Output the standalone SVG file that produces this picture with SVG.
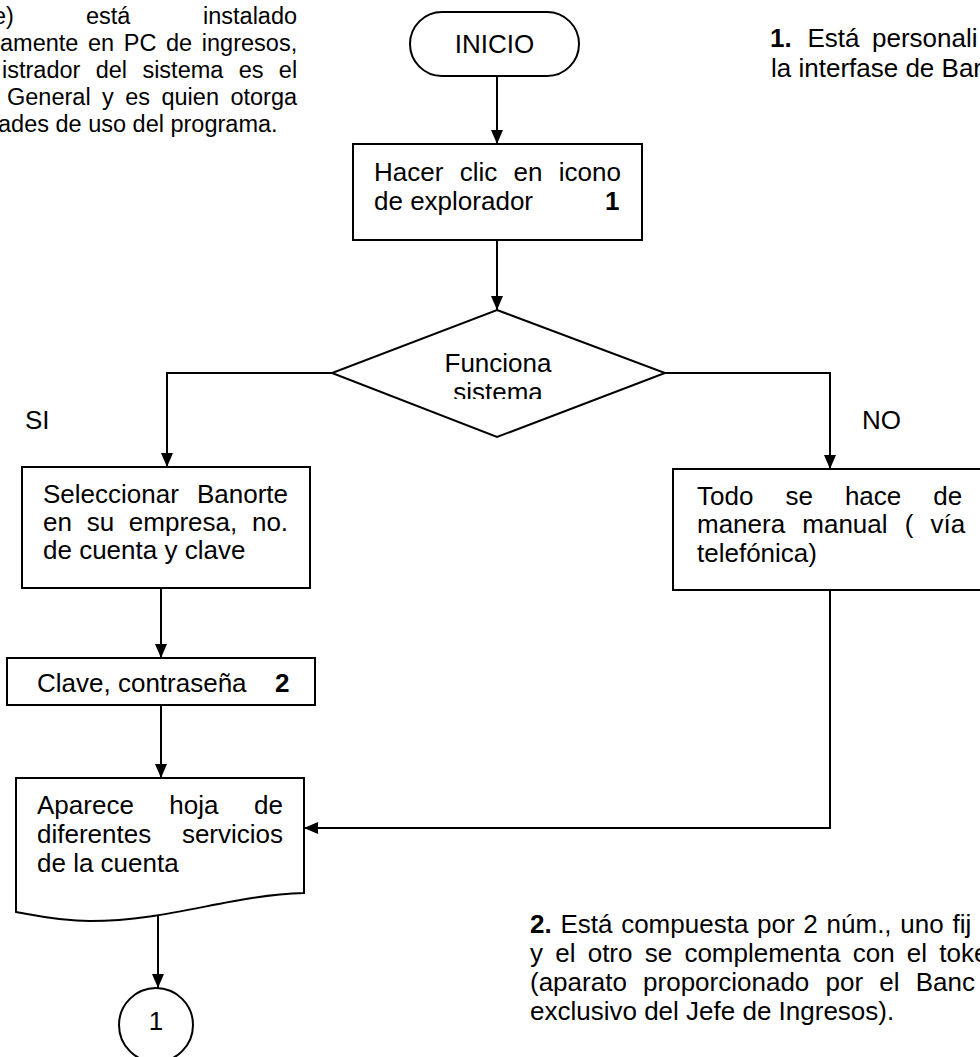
<svg xmlns="http://www.w3.org/2000/svg" width="980" height="1057" viewBox="0 0 980 1057">
<style>
text{font-family:"Liberation Sans",Arial,sans-serif;font-size:26px;fill:#000}
.note{font-size:23.5px}
.b{font-weight:bold}
.shape{fill:#fff;stroke:#000;stroke-width:2}
.conn{fill:none;stroke:#000;stroke-width:2}
</style>
<defs>
<marker id="arr" viewBox="0 0 14 12" refX="14" refY="6" markerWidth="14" markerHeight="12" orient="auto" markerUnits="userSpaceOnUse"><path d="M0,0 L14,6 L0,12 z" fill="#000"/></marker>
<clipPath id="dclip"><rect x="330" y="300" width="340" height="99"/></clipPath>
</defs>
<rect width="980" height="1057" fill="#fff"/>

<g id="note-top-left">
<text class="note" y="24"><tspan x="-7">e)</tspan><tspan x="86">está</tspan><tspan x="203">instalado</tspan></text>
<text class="note" x="0" y="51" word-spacing="3.1">amente en PC de ingresos,</text>
<text class="note" x="2" y="78" word-spacing="8.8">istrador del sistema es el</text>
<text class="note" x="7" y="105" word-spacing="4.9">General y es quien otorga</text>
<text class="note" x="-2" y="132">ades de uso del programa.</text>
</g>

<g id="note-1">
<text y="47"><tspan x="770" class="b">1.</tspan><tspan x="807.5">Está</tspan><tspan x="872">personali</tspan></text>
<text x="771" y="77">la interfase de Bar</text>
</g>

<g id="note-2">
<text x="530" y="933" word-spacing="1.5"><tspan class="b">2.</tspan> Está compuesta por 2 núm., uno fij</text>
<text x="530" y="962" word-spacing="5">y el otro se complementa con el toke</text>
<text x="530" y="991" word-spacing="9">(aparato proporcionado por el Banc</text>
<text x="530" y="1020">exclusivo del Jefe de Ingresos).</text>
</g>

<g id="connectors">
<path class="conn" d="M497,76 V144" marker-end="url(#arr)"/>
<path class="conn" d="M497,240 V310" marker-end="url(#arr)"/>
<path class="conn" d="M332,373 H167 V467" marker-end="url(#arr)"/>
<path class="conn" d="M665,373 H830 V469" marker-end="url(#arr)"/>
<path class="conn" d="M161,588 V658" marker-end="url(#arr)"/>
<path class="conn" d="M161,705 V778" marker-end="url(#arr)"/>
<path class="conn" d="M830,590 V828 H304" marker-end="url(#arr)"/>
<path class="conn" d="M158,916 V988" marker-end="url(#arr)"/>
</g>

<g id="inicio">
<rect class="shape" x="410" y="12" width="169" height="64" rx="32"/>
<text x="494.5" y="53" text-anchor="middle">INICIO</text>
</g>

<g id="hacer-clic">
<rect class="shape" x="353" y="144" width="289" height="96"/>
<text x="374" y="181" word-spacing="9.1">Hacer clic en icono</text>
<text y="210"><tspan x="374">de explorador</tspan><tspan x="605" class="b">1</tspan></text>
</g>

<g id="funciona-sistema">
<polygon class="shape" points="497,310 665,373 497,437 332,373"/>
<g clip-path="url(#dclip)">
<text x="498" y="372" text-anchor="middle">Funciona</text>
<text x="498" y="401" text-anchor="middle">sistema</text>
</g>
</g>

<g id="label-si"><text x="25" y="429">SI</text></g>
<g id="label-no"><text x="862" y="429">NO</text></g>

<g id="seleccionar">
<rect class="shape" x="22" y="467" width="288" height="121"/>
<text x="43" y="503" word-spacing="10.9">Seleccionar Banorte</text>
<text x="43" y="531" word-spacing="7.5">en su empresa, no.</text>
<text x="43" y="559">de cuenta y clave</text>
</g>

<g id="todo-manual">
<rect class="shape" x="673" y="469" width="320" height="121"/>
<text x="697" y="505" word-spacing="24.8">Todo se hace de</text>
<text x="697" y="533" word-spacing="9.9">manera manual ( vía</text>
<text x="697" y="562">telefónica)</text>
</g>

<g id="clave">
<rect class="shape" x="7" y="658" width="308" height="47"/>
<text y="692"><tspan x="37">Clave, contraseña</tspan><tspan x="275" class="b">2</tspan></text>
</g>

<g id="aparece-hoja">
<path class="shape" d="M16,778 H304 V893 C230,895 170,921 90,921 C55,921 35,915 16,912 Z"/>
<text x="37" y="814" word-spacing="28.3">Aparece hoja de</text>
<text x="37" y="843" word-spacing="23.5">diferentes servicios</text>
<text x="37" y="872">de la cuenta</text>
</g>

<g id="connector-1">
<circle class="shape" cx="156" cy="1025" r="37"/>
<text x="156" y="1030" text-anchor="middle">1</text>
</g>
</svg>
